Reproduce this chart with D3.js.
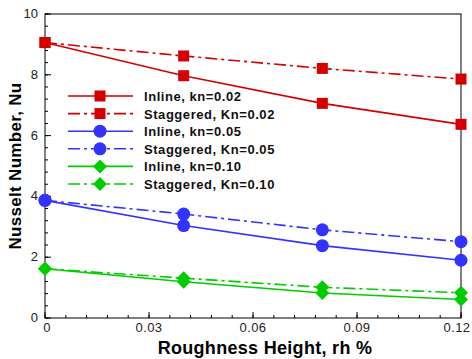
<!DOCTYPE html>
<html><head>
<meta charset="utf-8"/>
<script src="https://d3js.org/d3.v7.min.js"></script>
<style>
  body { margin: 0; padding: 0; background: #fff; overflow: hidden; }
  svg text { font-family: 'Liberation Sans', Arial, sans-serif; }
</style>
</head>
<body>
<svg id="chart" width="472" height="359"></svg>
<script>
// roughness heights (x) and Nusselt numbers per series
const roughness = [0, 0.04, 0.08, 0.12];
const inline002 = [9.06, 7.97, 7.06, 6.37];
const stagg002 = [9.06, 8.62, 8.21, 7.86];
const inline005 = [3.87, 3.04, 2.38, 1.9];
const stagg005 = [3.87, 3.42, 2.9, 2.51];
const inline010 = [1.62, 1.19, 0.82, 0.61];
const stagg010 = [1.62, 1.31, 1.01, 0.83];
const seriesNames = ["Inline, kn=0.02", "Staggered, Kn=0.02", "Inline, kn=0.05",
                     "Staggered, Kn=0.05", "Inline, kn=0.10", "Staggered, Kn=0.10"];
const xTicks = [0, 0.03, 0.06, 0.09, 0.12];
const yTicks = [0, 2, 4, 6, 8, 10];

const series = [
  {name: seriesNames[0], vals: inline002, color: "#d40000", marker: "square", dash: null},
  {name: seriesNames[1], vals: stagg002, color: "#d40000", marker: "square", dash: "12,4,3,4"},
  {name: seriesNames[2], vals: inline005, color: "#3333ff", marker: "circle", dash: null},
  {name: seriesNames[3], vals: stagg005, color: "#3333ff", marker: "circle", dash: "12,4,3,4"},
  {name: seriesNames[4], vals: inline010, color: "#00cc00", marker: "diamond", dash: null},
  {name: seriesNames[5], vals: stagg010, color: "#00cc00", marker: "diamond", dash: "12,4,3,4"}
];

const margin = {left: 45, right: 11, top: 14, bottom: 41};
const W = 472, H = 359;
const w = W - margin.left - margin.right;
const h = H - margin.top - margin.bottom;

const svg = d3.select("#chart");
const g = svg.append("g").attr("transform", `translate(${margin.left},${margin.top})`);

const x = d3.scaleLinear().domain([0, 0.12]).range([0, w]);
const y = d3.scaleLinear().domain([0, 10]).range([h, 0]);

// frame
g.append("rect").attr("width", w).attr("height", h)
  .attr("fill", "none").attr("stroke", "#000").attr("stroke-width", 1);

// minor + major ticks pointing inward
const xMinor = d3.range(0, 0.1201, 0.006);
g.selectAll(".xminor").data(xMinor).enter().append("line")
  .attr("x1", d => x(d)).attr("x2", d => x(d))
  .attr("y1", h).attr("y2", h - 3).attr("stroke", "#000");
g.selectAll(".xmajor").data(xTicks).enter().append("line")
  .attr("x1", d => x(d)).attr("x2", d => x(d))
  .attr("y1", h).attr("y2", h - 6).attr("stroke", "#000");
const yMinor = d3.range(0, 10.01, 0.4);
g.selectAll(".yminor").data(yMinor).enter().append("line")
  .attr("x1", 0).attr("x2", 3)
  .attr("y1", d => y(d)).attr("y2", d => y(d)).attr("stroke", "#000");
g.selectAll(".ymajor").data(yTicks).enter().append("line")
  .attr("x1", 0).attr("x2", 6)
  .attr("y1", d => y(d)).attr("y2", d => y(d)).attr("stroke", "#000");

// tick labels
g.selectAll(".xlab").data(xTicks).enter().append("text")
  .attr("x", d => x(d) + (d === 0 ? 2 : 0) - (d === 0.12 ? 4 : 0)).attr("y", h + 14)
  .attr("text-anchor", "middle").attr("font-size", 13).attr("fill", "#222")
  .attr("letter-spacing", 0.4)
  .text(d => d === 0 ? "0" : d3.format(".2f")(d));
g.selectAll(".ylab").data(yTicks).enter().append("text")
  .attr("x", -7).attr("y", d => y(d) + 4)
  .attr("text-anchor", "end").attr("font-size", 13).attr("fill", "#222")
  .text(d => d);

// axis titles
svg.append("text").attr("x", margin.left + w / 2 + 12).attr("y", 354)
  .attr("text-anchor", "middle").attr("font-size", 18).attr("font-weight", "bold")
  .attr("letter-spacing", 0.3)
  .text("Roughness Height, rh %");
svg.append("text").attr("transform", `translate(21,${margin.top + h / 2}) rotate(-90)`)
  .attr("text-anchor", "middle").attr("font-size", 17).attr("font-weight", "bold")
  .attr("letter-spacing", 0.3)
  .text("Nusselt Number, Nu");

const line = d3.line().x((d, i) => x(roughness[i])).y(d => y(d));

function drawMarker(sel, type, color) {
  if (type === "square") {
    sel.append("rect").attr("x", -5.5).attr("y", -5.5).attr("width", 11).attr("height", 11).attr("fill", color);
  } else if (type === "circle") {
    sel.append("circle").attr("r", 6.5).attr("fill", color);
  } else {
    sel.append("path").attr("d", "M0,-7L7,0L0,7L-7,0Z").attr("fill", color);
  }
}

series.forEach(s => {
  g.append("path").datum(s.vals).attr("d", line)
    .attr("fill", "none").attr("stroke", s.color).attr("stroke-width", 1.6)
    .attr("stroke-dasharray", s.dash);
  s.vals.forEach((v, i) => {
    const m = g.append("g").attr("transform", `translate(${x(roughness[i])},${y(v)})`);
    drawMarker(m, s.marker, s.color);
  });
});

// legend
const legend = svg.append("g");
series.forEach((s, i) => {
  const ly = 96 + i * 17.6;
  legend.append("line").attr("x1", 68).attr("x2", 133).attr("y1", ly).attr("y2", ly)
    .attr("stroke", s.color).attr("stroke-width", 1.6).attr("stroke-dasharray", s.dash);
  const m = legend.append("g").attr("transform", `translate(100,${ly})`);
  drawMarker(m, s.marker, s.color);
  legend.append("text").attr("x", 144).attr("y", ly + 5)
    .attr("font-size", 13).attr("font-weight", "bold").attr("fill", "#111")
    .attr("letter-spacing", 0.55)
    .text(s.name);
});
</script>
</body></html>
